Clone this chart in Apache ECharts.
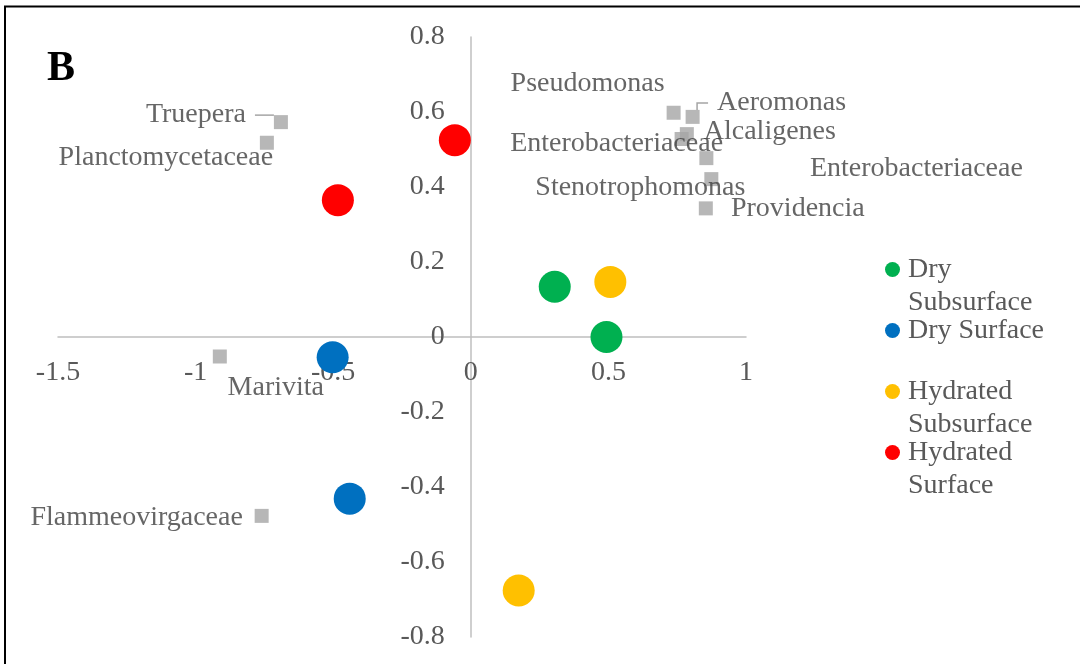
<!DOCTYPE html>
<html>
<head>
<meta charset="utf-8">
<style>
  html, body { margin: 0; padding: 0; background: #fff; }
  #chart { width: 1080px; height: 664px; }
</style>
<script src="https://cdn.jsdelivr.net/npm/echarts@6/dist/echarts.min.js"></script>
</head>
<body>
<div id="chart"></div>
<script>
// Sample scores (axis 1, axis 2)
const drySubsurface = [[0.305, 0.134], [0.493, 0.0]];
const drySurface = [[-0.502, -0.054], [-0.44, -0.431]];
const hydratedSubsurface = [[0.507, 0.147], [0.174, -0.676]];
const hydratedSurface = [[-0.058, 0.525], [-0.483, 0.365]];

// Taxa loadings
const taxa = ['Truepera', 'Planctomycetaceae', 'Pseudomonas', 'Aeromonas', 'Alcaligenes',
  'Enterobacteriaceae', 'Enterobacteriaceae', 'Stenotrophomonas', 'Providencia',
  'Marivita', 'Flammeovirgaceae'];
const taxaX = [-0.69, -0.741, 0.737, 0.806, 0.785, 0.766, 0.856, 0.874, 0.854, -0.912, -0.76];
const taxaY = [0.573, 0.518, 0.598, 0.587, 0.541, 0.528, 0.477, 0.421, 0.343, -0.052, -0.477];

// Tick settings
const xTicks = { min: -1.5, max: 1, interval: 0.5 };
const yTicks = { min: -0.8, max: 0.8, interval: 0.2 };

// Label placement (pixel offset of each taxon label centre from its marker)
const labelOffsets = [[-85, -7], [-101, 15], [-86, -29], [89, -14], [83, -2],
  [-65, 5], [210, 11], [-71, 9], [92, 0], [56, 31], [-125, 2]];
const leaderLineIndex = [0, 3];

const FONT = "'Liberation Serif', 'Times New Roman', serif";
// Legend entries: the blank first line keeps the name's first line level with its dot
const legendText = {
  'Dry Subsurface': ' \nDry\nSubsurface',
  'Dry Surface': ' \nDry Surface\n ',
  'Hydrated Subsurface': ' \nHydrated\nSubsurface',
  'Hydrated Surface': ' \nHydrated\nSurface'
};

// Plot area; the axes are drawn through the origin
const GRID = { left: 58, top: 37, width: 688, height: 600 };
const xAxisShift = -GRID.height * (0 - yTicks.min) / (yTicks.max - yTicks.min);
const yAxisShift = -GRID.width * (0 - xTicks.min) / (xTicks.max - xTicks.min);

function sampleSeries(name, data, color) {
  return {
    name: name,
    type: 'scatter',
    data: data,
    symbol: 'circle',
    symbolSize: 32,
    itemStyle: { color: color, opacity: 1 },
    emphasis: { disabled: true },
    z: 3
  };
}

const taxaData = taxa.map(function (n, i) {
  const item = { name: n, value: [taxaX[i], taxaY[i]] };
  if (leaderLineIndex.indexOf(i) >= 0) {
    item.labelLine = { show: true };
    // transparent box so the leader line starts a little away from the text
    item.label = { padding: [0, 9, 0, 9], backgroundColor: 'rgba(255,255,255,0)' };
  }
  return item;
});

const axisLabelStyle = { fontSize: 28, fontFamily: FONT, color: '#595959' };

const chart = echarts.init(document.getElementById('chart'));
chart.setOption({
  animation: false,
  backgroundColor: '#ffffff',
  grid: {
    left: GRID.left, top: GRID.top, width: GRID.width, height: GRID.height,
    containLabel: false, outerBoundsMode: 'none'
  },
  xAxis: {
    type: 'value',
    position: 'bottom',
    offset: xAxisShift,
    min: xTicks.min, max: xTicks.max, interval: xTicks.interval,
    axisLine: { onZero: false, lineStyle: { color: '#BFBFBF', width: 1.5 } },
    axisTick: { show: false },
    splitLine: { show: false },
    axisLabel: Object.assign({ margin: 22 }, axisLabelStyle)
  },
  yAxis: {
    type: 'value',
    position: 'left',
    offset: yAxisShift,
    min: yTicks.min, max: yTicks.max, interval: yTicks.interval,
    axisLine: { onZero: false, lineStyle: { color: '#BFBFBF', width: 1.5 } },
    axisTick: { show: false },
    splitLine: { show: false },
    axisLabel: Object.assign({ margin: 26 }, axisLabelStyle)
  },
  legend: {
    data: ['Dry Subsurface', 'Dry Surface', 'Hydrated Subsurface', 'Hydrated Surface'],
    orient: 'vertical',
    left: 885,
    top: 220,
    padding: 0,
    itemGap: -38,
    itemWidth: 15,
    itemHeight: 15,
    icon: 'circle',
    selectedMode: false,
    formatter: function (name) { return legendText[name]; },
    textStyle: {
      fontSize: 28, fontFamily: FONT, color: '#595959', lineHeight: 33,
      padding: [0, 0, 0, 3]
    }
  },
  series: [
    {
      name: 'Taxa',
      type: 'scatter',
      data: taxaData,
      symbol: 'rect',
      symbolSize: 14,
      itemStyle: { color: '#A5A5A5' },
      emphasis: { disabled: true },
      z: 2,
      label: {
        show: true,
        position: 'right',
        formatter: '{b}',
        fontSize: 28,
        fontFamily: FONT,
        color: '#404040'
      },
      labelLine: { show: false, length2: 11, lineStyle: { color: '#A5A5A5', width: 1.5 } },
      labelLayout: function (p) {
        const o = labelOffsets[p.dataIndex];
        return {
          x: p.rect.x + p.rect.width / 2 + o[0],
          y: p.rect.y + p.rect.height / 2 + o[1],
          align: 'center',
          verticalAlign: 'middle'
        };
      }
    },
    sampleSeries('Dry Subsurface', drySubsurface, '#00B050'),
    sampleSeries('Dry Surface', drySurface, '#0070C0'),
    sampleSeries('Hydrated Subsurface', hydratedSubsurface, '#FFC000'),
    sampleSeries('Hydrated Surface', hydratedSurface, '#FF0000')
  ],
  graphic: [
    {
      type: 'rect',
      shape: { x: 5, y: 6.5, width: 1100, height: 700 },
      style: { fill: 'none', stroke: '#000000', lineWidth: 2 },
      silent: true
    },
    {
      type: 'text',
      left: 47,
      top: 48,
      style: { text: 'B', font: 'bold 42px ' + FONT, fill: '#000000' },
      silent: true
    }
  ]
});
</script>
</body>
</html>
